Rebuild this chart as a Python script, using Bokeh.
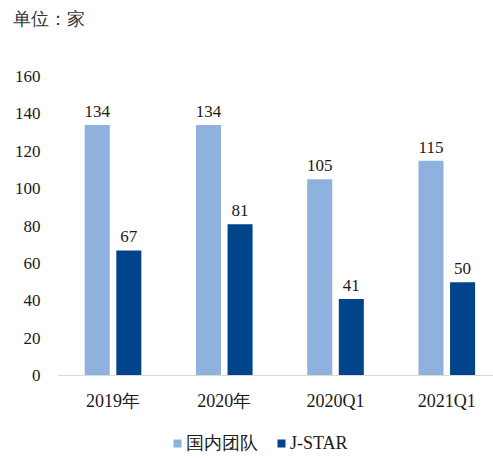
from bokeh.plotting import figure
from bokeh.models import ColumnDataSource, Range1d, FixedTicker, Legend, LegendItem, LabelSet, Title
from bokeh.transform import dodge
from bokeh.embed import file_html
from bokeh.resources import INLINE

categories = ["2019年", "2020年", "2020Q1", "2021Q1"]
domestic = [134, 134, 105, 115]
jstar = [67, 81, 41, 50]
y_ticks = [0, 20, 40, 60, 80, 100, 120, 140, 160]
series_names = ["国内团队", "J-STAR"]

LIGHT = "#8EB1DD"
DARK = "#00448C"
TXT = "#1a1a1a"
SERIF = "Liberation Serif"

idx = list(range(len(categories)))
src = ColumnDataSource(dict(
    x=idx,
    dom=domestic,
    js=jstar,
    dom_lbl=[str(v) for v in domestic],
    js_lbl=[str(v) for v in jstar],
))

# frame spans from y=160 (75px) down to the bottom edge; x axis pinned at y=0
p = figure(width=493, height=458, output_backend="svg", toolbar_location=None,
           x_range=Range1d(-0.499, 3.42), y_range=Range1d(-44.27, 160),
           min_border_left=57, min_border_right=0, min_border_top=0,
           min_border_bottom=0)

off = 0.142
bw = 0.225
r1 = p.vbar(x=dodge("x", -off, range=p.x_range), top="dom", bottom=0, width=bw,
            source=src, fill_color=LIGHT, line_color=None)
r2 = p.vbar(x=dodge("x", off, range=p.x_range), top="js", bottom=0, width=bw,
            source=src, fill_color=DARK, line_color=None)

for fld, lbl, o in (("dom", "dom_lbl", -off), ("js", "js_lbl", off)):
    ls = LabelSet(x=dodge("x", o, range=p.x_range), y=fld, text=lbl, source=src,
                  text_align="center", text_baseline="bottom", y_offset=8,
                  text_font=SERIF, text_font_size="17px", text_color=TXT)
    p.add_layout(ls)

p.xgrid.visible = False
p.ygrid.visible = False
p.outline_line_color = None

p.yaxis.ticker = FixedTicker(ticks=y_ticks)
p.yaxis.axis_line_color = None
p.yaxis.major_tick_line_color = None
p.yaxis.minor_tick_line_color = None
p.yaxis.major_tick_out = 0
p.yaxis.major_label_standoff = 17
p.yaxis.major_label_text_font = SERIF
p.yaxis.major_label_text_font_size = "17px"
p.yaxis.major_label_text_color = TXT

p.xaxis.fixed_location = 0
p.xaxis.ticker = FixedTicker(ticks=idx)
p.xaxis.major_label_overrides = {i: c for i, c in zip(idx, categories)}
p.xaxis.axis_line_color = "#D9D9D9"
p.xaxis.axis_line_width = 1
p.xaxis.major_tick_line_color = None
p.xaxis.minor_tick_line_color = None
p.xaxis.major_tick_out = 0
p.xaxis.major_label_standoff = 15
p.xaxis.major_label_text_font = SERIF
p.xaxis.major_label_text_font_size = "18px"
p.xaxis.major_label_text_color = TXT

# spacer between title and plot area
spacer = Title(text=" ", text_font_size="1px", standoff=34)
p.add_layout(spacer, "above")

p.title.text = "单位：家"
p.title.text_font = SERIF
p.title.text_font_size = "18px"
p.title.text_font_style = "normal"
p.title.text_color = "#333333"
p.title.align = "left"
p.title.vertical_align = "top"
p.title.offset = -45
p.title.standoff = 17

legend = Legend(items=[LegendItem(label=series_names[0], renderers=[r1]),
                       LegendItem(label=series_names[1], renderers=[r2])],
                orientation="horizontal", location=(115, 3),
                padding=0, margin=0, spacing=18, label_standoff=4,
                glyph_width=10, glyph_height=10, label_height=20,
                label_text_font=SERIF, label_text_font_size="18px",
                label_text_color=TXT, background_fill_alpha=0,
                border_line_color=None)
p.add_layout(legend, "center")

open("out.html", "w").write(file_html(p, INLINE))
